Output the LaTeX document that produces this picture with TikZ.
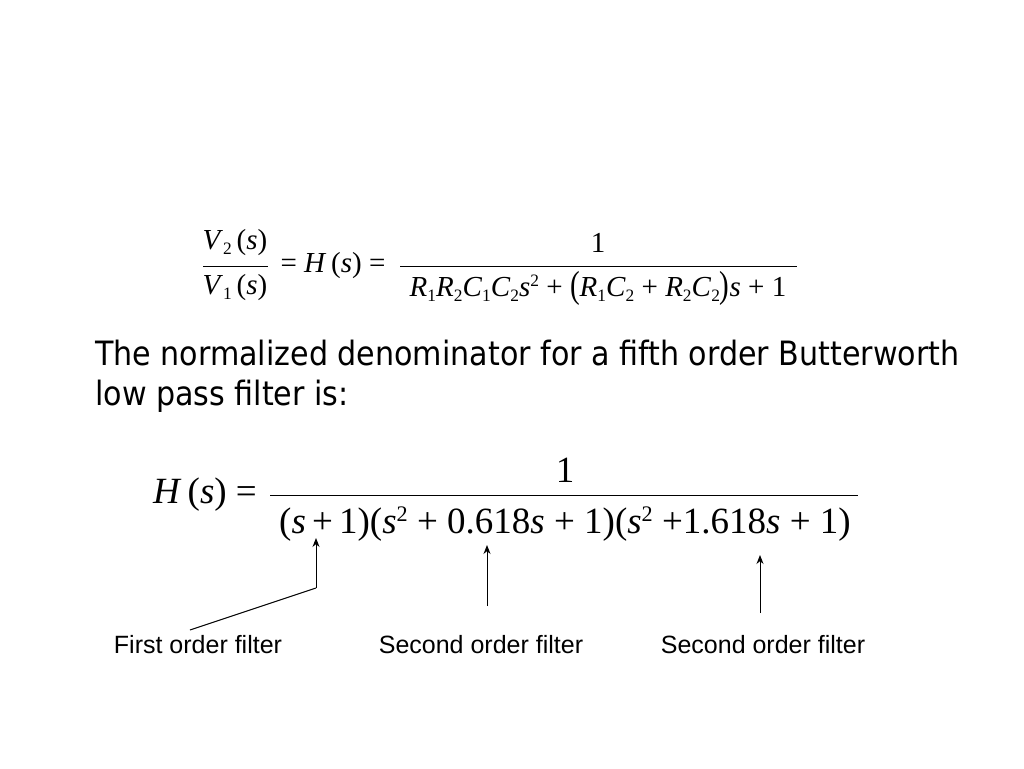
\documentclass[tikz,border=0pt]{standalone}
\usepackage{fontspec}
\setmainfont{Liberation Serif}
\newfontfamily\sansf{Liberation Sans}
\newfontfamily\parf{DejaVu Sans Condensed}
\newcommand{\iv}[1]{\textit{#1}}
\newcommand{\sub}[1]{\raisebox{-0.35ex}{\scalebox{0.6}{#1}}}
\newcommand{\sq}{\raisebox{0.75ex}{\scalebox{0.6}{2}}}
\tikzset{eqA/.style={font=\fontsize{29}{34}\selectfont, inner sep=0pt},
eqB/.style={font=\fontsize{37}{42}\selectfont, inner sep=0pt},
lab/.style={font=\sansf\fontsize{25}{30}\selectfont, inner sep=0pt},
par/.style={font=\parf\fontsize{33.5}{40}\selectfont, inner sep=0pt, anchor=north west, align=left},
fl/.style={line width=1pt},
arr/.style={line width=1pt,-{Stealth[length=9pt,width=7pt]}}}
\usetikzlibrary{arrows.meta}
\begin{document}
\begin{tikzpicture}[x=1pt,y=-1pt]
\useasboundingbox (0,0) rectangle (1024,768);
\fill[white] (0,0) rectangle (1024,768);
% equation 1
\node[eqA] (n1) at (235,243) {\iv{V}\sub{2}\,(\iv{s})};
\node[eqA] (d1) at (235,288) {\iv{V}\sub{1}\,(\iv{s})};
\draw[fl] (203,266) -- (268,266);
\node[eqA] (h1) at (333,266) {= \iv{H}\,(\iv{s}) =};
\draw[fl] (400,266) -- (797,266);
\node[eqA] (o1) at (598,243) {1};
\node[eqA] (dd1) at (598,288) {\iv{R}\sub{1}\iv{R}\sub{2}\iv{C}\sub{1}\iv{C}\sub{2}\iv{s}\sq\ + \raisebox{-0.05ex}{\scalebox{1}[1.3]{(}}\iv{R}\sub{1}\iv{C}\sub{2}\ + \iv{R}\sub{2}\iv{C}\sub{2}\raisebox{-0.05ex}{\scalebox{1}[1.3]{)}}\iv{s} + 1};
% paragraph
\node[par] (p) at (95,340) {The normalized denominator for a fifth order Butterworth\\low pass filter is:};
% equation 2
\node[eqB] (h2) at (205,495) {\iv{H}\,(\iv{s}) =};
\draw[fl] (270,495) -- (858,495);
\node[eqB] (o2) at (565,470) {1};
\node[eqB] (dd2) at (565,524) {(\iv{s}\,+\,1)(\iv{s}\sq\ + 0.618\iv{s} + 1)(\iv{s}\sq\ +1.618\iv{s} + 1)};
% arrows
\coordinate (a1) at (316,588);
\coordinate (a1t) at (316,538);
\coordinate (a1e) at (190,630);
\draw[arr] (a1) -- (a1t);
\draw[fl] (a1) -- (a1e);
\coordinate (a2) at (487,606);
\coordinate (a2t) at (487,545);
\draw[arr] (a2) -- (a2t);
\coordinate (a3) at (760,613);
\coordinate (a3t) at (760,555);
\draw[arr] (a3) -- (a3t);
\node[lab] (l1) at (198,645) {First order filter};
\node[lab] (l2) at (481,645) {Second order filter};
\node[lab] (l3) at (763,645) {Second order filter};
\end{tikzpicture}
\end{document}
